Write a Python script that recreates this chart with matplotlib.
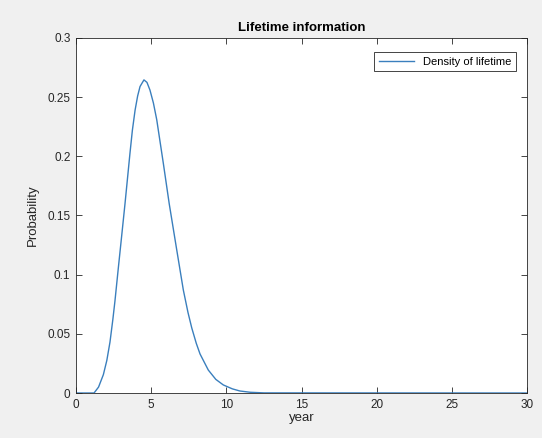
import matplotlib
matplotlib.use('Agg')
import matplotlib.pyplot as plt

plt.rcParams['font.family'] = ['Liberation Sans', 'DejaVu Sans']

# values
years = [0, 1.2, 1.5, 1.82, 2.05, 2.26, 2.45, 2.59, 2.81, 3.04, 3.26, 3.59,
         3.75, 3.93, 4.1, 4.26, 4.52, 4.72, 4.92, 5.15, 5.37, 5.81, 6.2, 6.7,
         7.14, 7.45, 7.7, 8.0, 8.25, 8.8, 9.3, 9.8, 10.4, 10.9, 11.6, 12.5, 30]
density = [0, 0, 0.005, 0.0155, 0.0275, 0.043, 0.062, 0.0776, 0.105, 0.133,
           0.160, 0.2026, 0.222, 0.239, 0.251, 0.259, 0.2646, 0.2625, 0.256,
           0.245, 0.231, 0.194, 0.160, 0.121, 0.087, 0.068, 0.055, 0.042,
           0.033, 0.0194, 0.0115, 0.0068, 0.0035, 0.0017, 0.0006, 0.0001, 0]

fig = plt.figure(figsize=(5.42, 4.38), dpi=100, facecolor='#f0f0f0')
ax = fig.add_axes([76 / 542, 45 / 438, 451 / 542, 355 / 438])
ax.set_facecolor('white')

ax.plot(years, density, color='#3a7fbd', lw=1.0, label='Density of lifetime')

ax.set_xlim(0, 30)
ax.set_ylim(0, 0.3)
ax.set_xticks([0, 5, 10, 15, 20, 25, 30])
ax.set_yticks([0, 0.05, 0.1, 0.15, 0.2, 0.25, 0.3])
ax.set_yticklabels(['0', '0.05', '0.1', '0.15', '0.2', '0.25', '0.3'])
ax.tick_params(direction='in', top=True, right=True, length=4, width=0.6,
               colors='#262626', labelsize=8.5, pad=4)
for s in ax.spines.values():
    s.set_color('#262626')
    s.set_linewidth(0.6)

ax.set_title('Lifetime information', fontsize=9.5, fontweight='bold', color='black', pad=5)
ax.set_xlabel('year', fontsize=9.5, color='#262626', labelpad=1)
ax.set_ylabel('Probability', fontsize=9.5, color='#262626', labelpad=6)

leg = ax.legend(loc='upper right', fontsize=8, fancybox=False, framealpha=1,
                edgecolor='#262626', handlelength=3.2, borderpad=0.4,
                bbox_to_anchor=(0.988, 0.976))
leg.get_frame().set_linewidth(0.6)

fig.savefig('out.png', dpi=100, facecolor=fig.get_facecolor())
